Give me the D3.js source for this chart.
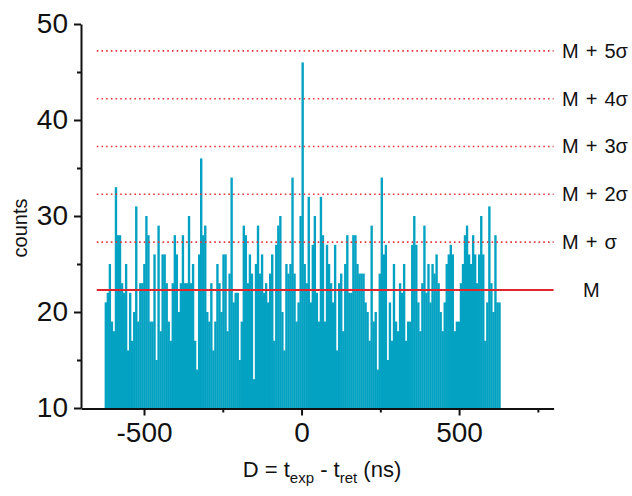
<!DOCTYPE html>
<html><head><meta charset="utf-8">
<script src="https://cdn.jsdelivr.net/npm/d3@7"></script>
<style>body{margin:0;background:#fff}svg{display:block}text{font-family:"Liberation Sans",Arial,sans-serif;fill:#111}</style>
</head><body><svg id="c" width="632" height="496"></svg>
<script>
// histogram counts, left to right
const counts = [
 21,22,25,19,18,33,28,28,23,22,25,16,22,17,20,31,19,23,23,25,30,28,19,19,26,15,29,18,26,26,23,
 19,17,23,28,26,20,23,28,23,23,30,23,25,17,14,26,36,28,29,20,19,23,16,19,25,23,20,26,26,18,24,
 34,21,22,22,15,19,29,28,23,26,24,13,25,29,24,26,22,23,21,24,26,17,27,29,30,20,16,25,24,25,34,
 24,19,21,30,46,25,23,32,21,27,30,22,19,32,28,19,27,25,23,21,27,16,23,24,18,25,28,22,22,28,28,
 25,24,24,24,21,20,17,29,19,20,14,24,34,26,27,15,21,17,25,19,18,23,22,25,17,19,19,27,30,27,21,
 18,23,29,22,25,21,25,24,26,23,20,18,21,25,26,27,26,18,19,19,23,25,28,29,26,25,28,26,23,26,30,26,
 17,21,31,23,20,28,21,21
];
const binFrom = -625, binTo = 631;
const xDomain = [-700, 800];
const yDomain = [10, 50];
const xTicks = [-500, 0, 500];
const xMinor = [-250, 250, 750];
const yTicks = [10, 20, 30, 40, 50];
const yMinor = [15, 25, 35, 45];
const mean = 22.3, sigma = 4.98;
const refK = [0, 1, 2, 3, 4, 5];
const refLabels = ["M", "M + σ", "M + 2σ", "M + 3σ", "M + 4σ", "M + 5σ"];
const refSpan = [-650, 800];

const svg = d3.select("#c");
const x = d3.scaleLinear().domain(xDomain).range([81, 553.6]);
const y = d3.scaleLinear().domain(yDomain).range([408, 24]);
const bw = (binTo - binFrom) / counts.length;

// bars
svg.append("g").selectAll("rect").data(counts).join("rect")
  .attr("x", (d, i) => x(binFrom + i * bw))
  .attr("width", (d, i) => x(binFrom + (i + 1) * bw) - x(binFrom + i * bw) + 0.35)
  .attr("y", d => y(d))
  .attr("height", d => y(yDomain[0]) - y(d))
  .attr("fill", "#04a2c2");

// reference lines
const refG = svg.append("g");
refK.forEach((k, i) => {
  const v = mean + k * sigma;
  refG.append("line")
    .attr("x1", x(refSpan[0])).attr("x2", x(refSpan[1]))
    .attr("y1", y(v)).attr("y2", y(v))
    .attr("stroke", k === 0 ? "#e0262c" : "#e8333a")
    .attr("stroke-width", k === 0 ? 2 : 1.6)
    .attr("stroke-dasharray", k === 0 ? null : "1.6,3.1");
  refG.append("text")
    .attr("x", k === 0 ? 583 : 562)
    .attr("y", y(v) + 7)
    .attr("font-size", 20)
    .attr("word-spacing", 1.5)
    .text(refLabels[i]);
});

// axes
const fmt = d => String(d);
svg.append("g").attr("transform", "translate(81,0)")
  .call(d3.axisLeft(y).tickValues(yTicks).tickFormat(fmt).tickSize(7).tickSizeOuter(0).tickPadding(6));
svg.append("g").attr("transform", "translate(81,0)")
  .call(d3.axisLeft(y).tickValues(yMinor).tickSize(4).tickFormat("").tickSizeOuter(0))
  .select(".domain").remove();
svg.append("g").attr("transform", "translate(0,408.5)")
  .call(d3.axisBottom(x).tickValues(xTicks).tickFormat(fmt).tickSize(7).tickSizeOuter(0).tickPadding(7));
svg.append("g").attr("transform", "translate(0,408.5)")
  .call(d3.axisBottom(x).tickValues(xMinor).tickSize(4).tickFormat("").tickSizeOuter(0))
  .select(".domain").remove();

svg.selectAll(".domain").attr("stroke", "#111").attr("stroke-width", 2);
svg.selectAll(".tick line").attr("stroke", "#111").attr("stroke-width", 2);
svg.selectAll(".tick text").attr("font-size", 28).attr("font-family", "Liberation Sans, Arial, sans-serif").attr("fill", "#111");

// axis titles
svg.append("text")
  .attr("transform", "translate(27,228) rotate(-90)")
  .attr("text-anchor", "middle")
  .attr("font-size", 20)
  .text("counts");

const xt = svg.append("text")
  .attr("x", 322).attr("y", 477)
  .attr("text-anchor", "middle")
  .attr("font-size", 22);
xt.append("tspan").text("D = t");
xt.append("tspan").attr("font-size", 15).attr("dy", 6).text("exp");
xt.append("tspan").attr("dy", -6).text(" - t");
xt.append("tspan").attr("font-size", 15).attr("dy", 6).text("ret");
xt.append("tspan").attr("dy", -6).text(" (ns)");
</script></body></html>
